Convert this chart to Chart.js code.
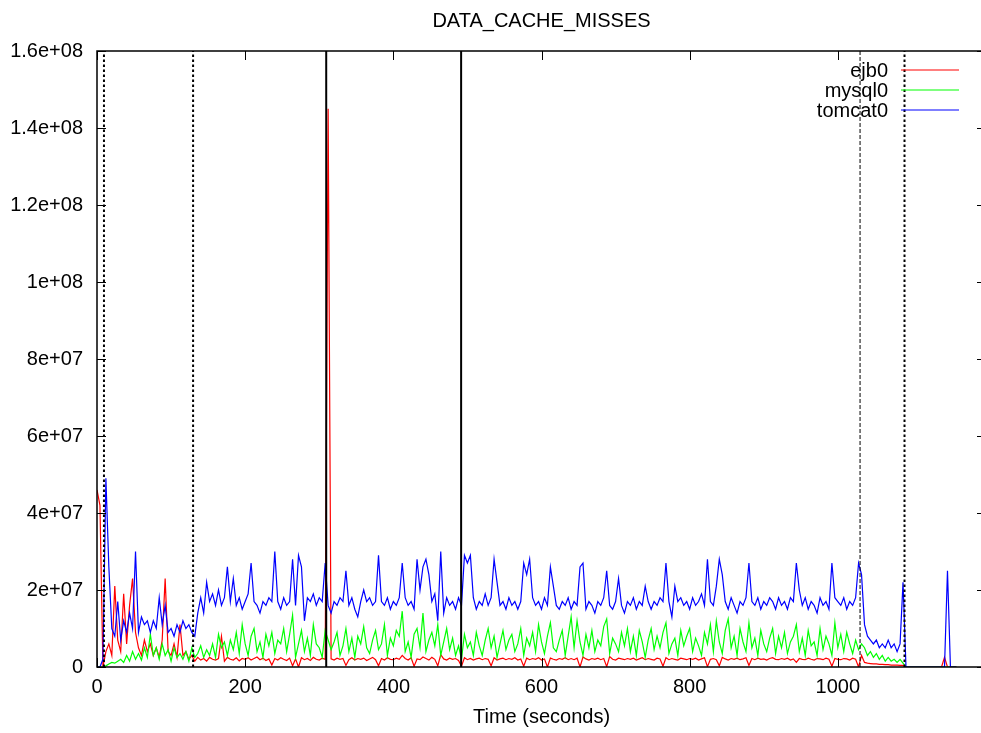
<!DOCTYPE html>
<html>
<head>
<meta charset="utf-8">
<title>DATA_CACHE_MISSES</title>
<script src="https://cdn.jsdelivr.net/npm/chart.js@4.4.1/dist/chart.umd.min.js"></script>
<style>
    html, body { margin: 0; padding: 0; overflow: hidden; background: #fff; }
    #wrap { width: 1000px; height: 733px; }
</style>
</head>
<body>
<div id="wrap"><canvas id="myChart" width="1000" height="733"></canvas></div>
<script>
"use strict";

/* tider: ett prov var 4:e sekund, från 0 s */
const startTime = 0;
const timeStep = 4;

/* värden i miljoner missar */
const ejb0 = [
    46, 42, 0, 4, 6, 3, 21, 7, 4, 19,
    6, 16, 23, 9, 5, 3, 7, 4, 6, 3,
    5, 2.5, 7, 23, 4, 3, 6, 2.5, 11, 3,
    4, 2, 3, 1.5, 2.5, 1.8, 2.2, 1.5, 2.5, 2,
    1.8, 2.2, 8, 1.5, 2.5, 2, 1.8, 2.4, 1.6, 2.2,
    2, 2.4, 1.8, 2.2, 2.6, 1.9, 2.3, 1.7, 2.1, 0.5,
    2.2, 1.8, 2.4, 2, 1.7, 2.3, 0.3, 2.1, 0, 2.4,
    1.9, 2.2, 1.7, 2.5, 2, 1.8, 2.3, 2, 145, 2.1,
    1.8, 2.3, 2, 2.2, 0.4, 1.9, 2.4, 1.8, 2.2, 2,
    2.3, 1.7, 2.1, 2.5, 1.9, 0.3, 2.2, 1.8, 2.4, 2,
    1.9, 2.3, 2, 3, 2.2, 1.8, 2.4, 0.2, 2.1, 1.9,
    2.6, 2.2, 1.8, 2.5, 2, 0.3, 3.2, 2.1, 1.8, 2.3,
    2, 2.2, 1.7, 0.2, 2.4, 1.9, 2.2, 1.8, 2.1, 2.3,
    1.9, 2.2, 2, 0.3, 2.4, 1.8, 2.1, 2.3, 1.9, 2.2,
    2, 2.4, 1.8, 2.1, 0.2, 2.3, 1.9, 2.2, 2, 2.4,
    1.8, 2.1, 0, 2.3, 2, 1.8, 2.2, 2, 2.4, 1.9,
    2.2, 1.9, 2.3, 0, 2.6, 2.1, 1.8, 2.2, 2, 2.3,
    1.9, 2.2, 0.1, 2.7, 2, 1.8, 2.3, 2.1, 1.9, 2.2,
    2, 2.3, 1.8, 2.1, 2.4, 1.9, 2.2, 2, 1.8, 2.3,
    2.1, 0.2, 2.4, 1.9, 2.2, 2, 1.8, 2.3, 2.1, 1.9,
    2.2, 2, 2.3, 1.8, 2.1, 2.4, 0.1, 2, 2.2, 1.9,
    0.3, 2.5, 2.1, 1.8, 2.2, 2, 2.3, 1.9, 2.1, 2.4,
    0.4, 2.2, 1.9, 2.3, 2, 2.1, 1.8, 2.2, 2.4, 2,
    1.9, 2.2, 2, 2.3, 1.8, 2.1, 1.2, 2.2, 2, 1.9,
    2.3, 2, 1.8, 2.2, 2.1, 1.9, 2.3, 2, 0.2, 2.2,
    2, 1.9, 2.2, 2.1, 1.8, 2.3, 2, 0, 3, 1.2,
    1, 0.9, 0.8, 0.8, 0.7, 0.7, 0.6, 0.6, 0.5, 0.5,
    0.5, 0.4, 0.4, 0, 0, 0, 0, 0, 0, 0,
    0, 0, 0, 0, 0, 0, 2.5, 0, 0, 0,
    0
];

const mysql0 = [
    0, 0, 0, 0.3, 0.8, 1.2, 1, 1.5, 2, 1.2,
    3, 1.5, 4, 2, 3.5, 1.8, 5, 2.5, 8.5, 3,
    5, 2, 6, 3, 4.5, 1.5, 5, 2.5, 3.5, 2,
    4, 1.5, 5, 2.5, 3.5, 5.5, 2.5, 4.5, 3, 6,
    2.5, 8.5, 5, 6.5, 3, 7, 4.5, 9, 3.5, 11,
    6, 3, 8, 10, 4, 6.5, 2.5, 8.5, 5.5, 9,
    3.5, 7, 6, 10, 4, 8.5, 13.5, 2.5, 6, 9.5,
    4, 7.5, 3, 11, 6, 5, 2.5, 9.5, 7, 4.5,
    6.5, 9, 3, 5.5, 10, 4, 7.5, 2.5, 8, 6,
    10.5, 5, 3.5, 7, 9.5, 4.5, 6, 11, 3, 7.5,
    5.5, 9.5, 8, 14.5, 4, 6.5, 2.5, 8.5, 10, 5,
    14, 4, 7, 9, 5.5, 11, 3, 6.5, 10, 4.5,
    7.5, 3, 5.5, 2, 8.5, 5, 6.5, 3, 9, 5.5,
    3, 7, 10, 5, 8, 2.5, 6, 9.5, 4.5, 7,
    8.5, 4, 6, 10, 3, 7.5, 5.5, 9, 4, 11,
    6.5, 3.5, 8, 11.5, 5, 4, 7, 9.5, 3, 8,
    13, 5, 12, 6.5, 3, 8.5, 5, 9.5, 4, 7,
    5.5, 10.5, 12.5, 3.5, 7.5, 6, 4, 9, 5.5, 10,
    4, 8, 3, 9.5, 6.5, 2.5, 7, 10, 4.5, 8,
    5, 9, 11.5, 3.5, 6, 7.5, 3, 9.5, 5.5, 8,
    10, 4, 7.5, 5.5, 3, 9, 6, 11, 4, 12,
    6.5, 3.5, 9.5, 12.5, 5, 8, 3, 10, 6.5, 4,
    11.5, 5, 7.5, 3, 9.5, 6, 4, 7.5, 10, 3.5,
    8, 5, 9, 3.5, 6.5, 8, 11, 4, 7.5, 3,
    9.5, 5.5, 6.5, 3, 10, 4.5, 8, 6, 3, 11.5,
    5, 8.5, 4, 9, 6, 3.5, 7, 4.5, 6, 5,
    3, 4, 2.5, 3.5, 2, 3, 1.5, 2.5, 1.5, 2,
    1.2, 2, 1, 0, 0, 0, 0, 0, 0, 0,
    0, 0, 0, 0, 0, 0, 0, 0, 0, 0,
    0
];

const tomcat0 = [
    0, 0, 2, 49, 26, 10, 8, 17, 7, 12,
    9, 14, 10, 30, 9, 13, 11, 12, 9, 12,
    10, 18, 11, 16, 9, 10, 8, 11, 9, 12,
    10, 11, 9, 8, 14, 18, 14, 22, 17, 19,
    16, 20, 16, 18, 26, 17, 23, 16, 18, 15,
    17, 19, 27, 17, 16, 14, 17, 16, 18, 17,
    30, 17, 15, 18, 16, 17, 28, 16, 29, 26,
    12, 18, 17, 19, 16, 18, 17, 27, 16, 14,
    17, 16, 18, 17, 25, 16, 18, 15, 13, 17,
    20, 17, 18, 16, 17, 29, 17, 16, 18, 15,
    17, 16, 18, 27, 18, 16, 17, 15, 28, 20,
    26, 28, 24, 17, 19, 12, 30, 14, 18, 16,
    17, 15, 18, 16, 29, 27, 29, 18, 15, 17,
    16, 19, 16, 18, 28, 22, 16, 17, 15, 18,
    16, 17, 15, 17, 27, 24, 28, 18, 16, 17,
    15, 18, 16, 26, 21, 16, 15, 17, 16, 18,
    15, 17, 16, 26, 27, 15, 17, 16, 14, 17,
    16, 18, 25, 16, 15, 17, 23, 16, 14, 17,
    16, 18, 15, 17, 16, 21, 17, 15, 17, 16,
    18, 17, 27, 17, 13, 21, 17, 18, 16, 17,
    15, 18, 16, 17, 19, 16, 28, 17, 16, 21,
    28, 24, 17, 15, 18, 16, 14, 17, 16, 18,
    27, 17, 16, 18, 15, 17, 16, 18, 17, 15,
    18, 16, 17, 15, 18, 17, 27, 20, 16, 18,
    15, 17, 16, 14, 18, 16, 17, 15, 27, 18,
    17, 16, 18, 15, 17, 16, 18, 27, 24, 11,
    8, 7, 6, 7, 5, 6, 5, 7, 5, 6,
    4, 6, 22, 0, 0, 0, 0, 0, 0, 0,
    0, 0, 0, 0, 0, 0, 0, 25, 0, 0,
    0
];

const seriesNames = ['ejb0', 'mysql0', 'tomcat0'];
const seriesColors = ['#ff0000', '#00ff00', '#0000ff'];

/* händelser (lodräta linjer) i sekunder */
const eventTimes = [9.4, 129.7, 309.4, 491.5, 1030, 1090];
const eventKinds = ['dotted', 'dotted', 'solid', 'solid', 'dashed', 'dotted'];

/* axlar */
const xTickValues = [0, 200, 400, 600, 800, 1000, 1200];
const xTickLabels = ['0', '200', '400', '600', '800', '1000', ''];
const yTickValues = [0, 20, 40, 60, 80, 100, 120, 140, 160];
const yTickLabels = ['0', '2e+07', '4e+07', '6e+07', '8e+07', '1e+08', '1.2e+08', '1.4e+08', '1.6e+08'];

const fontFamily = '"Liberation Sans", Arial, Helvetica, sans-serif';
const fontSize = 20;

const eventStyles = {
    dotted: { borderWidth: 2, borderDash: [2.5, 2.5] },
    solid: { borderWidth: 2, borderDash: [] },
    dashed: { borderWidth: 1, borderDash: [4, 2] }
};

function toPoints(values) {
    return values.map((v, i) => ({ x: startTime + i * timeStep, y: v }));
}

/* ram, inåtriktade streck och nyckel som i gnuplot */
const gnuplotFrame = {
    id: 'gnuplotFrame',
    afterDraw(chart) {
        const { ctx, chartArea: a, scales } = chart;
        ctx.save();
        ctx.strokeStyle = '#000';
        ctx.lineWidth = 1;
        ctx.beginPath();
        scales.y.ticks.forEach(t => {
            const py = Math.round(scales.y.getPixelForValue(t.value)) + 0.5;
            ctx.moveTo(a.left, py);
            ctx.lineTo(a.left + 9, py);
            ctx.moveTo(a.right, py);
            ctx.lineTo(a.right - 9, py);
        });
        scales.x.ticks.forEach(t => {
            const px = Math.round(scales.x.getPixelForValue(t.value)) + 0.5;
            ctx.moveTo(px, a.bottom);
            ctx.lineTo(px, a.bottom - 9);
            ctx.moveTo(px, a.top);
            ctx.lineTo(px, a.top + 9);
        });
        ctx.stroke();
        ctx.lineWidth = 1.5;
        ctx.strokeRect(a.left, a.top, a.right - a.left, a.bottom - a.top);

        /* nyckel */
        ctx.font = fontSize + 'px ' + fontFamily;
        ctx.textAlign = 'right';
        ctx.textBaseline = 'middle';
        seriesNames.forEach((name, i) => {
            const y = a.top + 19 + i * 20;
            ctx.fillStyle = '#000';
            ctx.fillText(name, a.right - 98, y + 1);
            ctx.strokeStyle = seriesColors[i];
            ctx.lineWidth = 1.2;
            ctx.beginPath();
            ctx.moveTo(a.right - 85, y);
            ctx.lineTo(a.right - 27, y);
            ctx.stroke();
        });
        ctx.restore();
    }
};

const seriesData = [ejb0, mysql0, tomcat0];

const datasets = [];
eventTimes.forEach((t, i) => {
    datasets.push({
        label: 'event' + i,
        data: [{ x: t, y: 0 }, { x: t, y: yTickValues[yTickValues.length - 1] }],
        borderColor: '#000',
        borderWidth: eventStyles[eventKinds[i]].borderWidth,
        borderDash: eventStyles[eventKinds[i]].borderDash,
        pointRadius: 0,
        order: 0
    });
});
seriesNames.forEach((name, i) => {
    datasets.push({
        label: name,
        data: toPoints(seriesData[i]),
        borderColor: seriesColors[i],
        borderWidth: 1.2,
        pointRadius: 0,
        tension: 0,
        order: 3 - i
    });
});

const ctx1 = document.getElementById('myChart');

new Chart(ctx1, {
    type: 'line',
    data: { datasets: datasets },
    options: {
        responsive: false,
        devicePixelRatio: 1,
        animation: false,
        layout: { padding: { left: 0, right: 14, top: 0, bottom: 0 } },
        plugins: {
            legend: { display: false },
            tooltip: { enabled: false },
            title: {
                display: true,
                fullSize: false,
                text: 'DATA_CACHE_MISSES',
                color: '#000',
                font: { family: fontFamily, size: fontSize, weight: 'normal' },
                padding: { top: 9, bottom: 18 }
            }
        },
        scales: {
            x: {
                type: 'linear',
                min: xTickValues[0],
                max: xTickValues[xTickValues.length - 1],
                grid: { display: false, drawTicks: false },
                border: { display: false },
                afterBuildTicks: scale => { scale.ticks = xTickValues.map(v => ({ value: v })); },
                afterFit: scale => { scale.height = 66; },
                ticks: {
                    color: '#000',
                    padding: 8,
                    maxRotation: 0,
                    autoSkip: false,
                    font: { family: fontFamily, size: fontSize },
                    callback: (v, i) => xTickLabels[i]
                },
                title: {
                    display: true,
                    text: 'Time (seconds)',
                    color: '#000',
                    font: { family: fontFamily, size: fontSize },
                    padding: { top: 0, bottom: 4 }
                }
            },
            y: {
                type: 'linear',
                min: yTickValues[0],
                max: yTickValues[yTickValues.length - 1],
                grid: { display: false, drawTicks: false },
                border: { display: false },
                afterBuildTicks: scale => { scale.ticks = yTickValues.map(v => ({ value: v })); },
                afterFit: scale => { scale.width = 97; },
                ticks: {
                    color: '#000',
                    padding: 14,
                    autoSkip: false,
                    font: { family: fontFamily, size: fontSize },
                    callback: (v, i) => yTickLabels[i]
                }
            }
        }
    },
    plugins: [gnuplotFrame]
});
</script>
</body>
</html>
